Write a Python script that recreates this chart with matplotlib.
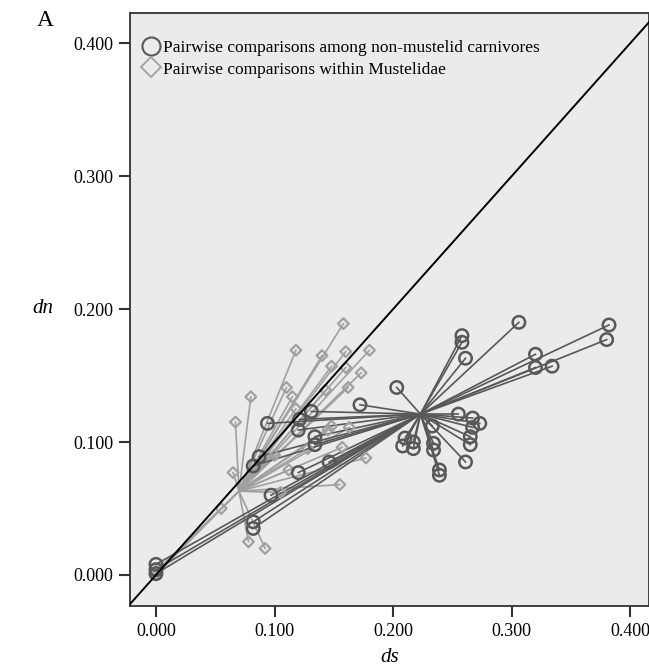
import matplotlib
matplotlib.use("Agg")
import matplotlib.pyplot as plt
from matplotlib.lines import Line2D

plt.rcParams["font.family"] = ["Liberation Serif", "DejaVu Serif"]

# non-mustelid carnivores (ds, dn)
other_ds = [0.258, 0.258, 0.261, 0.203, 0.255, 0.267, 0.273, 0.267, 0.233, 0.265,
            0.265, 0.210, 0.208, 0.217, 0.217, 0.234, 0.234, 0.261, 0.239, 0.239,
            0.306, 0.382, 0.380, 0.320, 0.320, 0.334,
            0.094, 0.121, 0.120, 0.131, 0.172, 0.134, 0.134, 0.146, 0.120, 0.087,
            0.082, 0.097, 0.082, 0.082,
            0.000, 0.000, 0.000]
other_dn = [0.180, 0.175, 0.163, 0.141, 0.121, 0.118, 0.114, 0.111, 0.112, 0.104,
            0.098, 0.103, 0.097, 0.100, 0.095, 0.099, 0.094, 0.085, 0.079, 0.075,
            0.190, 0.188, 0.177, 0.166, 0.156, 0.157,
            0.114, 0.117, 0.109, 0.123, 0.128, 0.104, 0.098, 0.085, 0.077, 0.089,
            0.082, 0.060, 0.040, 0.035,
            0.008, 0.004, 0.001]
other_centroid = (0.223, 0.121)

# within Mustelidae (ds, dn)
must_ds = [0.158, 0.118, 0.140, 0.160, 0.180, 0.148, 0.160, 0.173, 0.162, 0.110,
           0.115, 0.080, 0.143, 0.118, 0.067, 0.148, 0.163, 0.145, 0.157, 0.177,
           0.065, 0.112, 0.155, 0.055, 0.078, 0.092, 0.000, 0.000, 0.128, 0.100,
           0.105]
must_dn = [0.189, 0.169, 0.165, 0.168, 0.169, 0.157, 0.156, 0.152, 0.141, 0.141,
           0.134, 0.134, 0.139, 0.125, 0.115, 0.112, 0.111, 0.109, 0.096, 0.088,
           0.077, 0.079, 0.068, 0.050, 0.025, 0.020, 0.000, 0.003, 0.095, 0.090,
           0.062]
must_centroid = (0.070, 0.063)

xticks = [0.0, 0.1, 0.2, 0.3, 0.4]
yticks = [0.0, 0.1, 0.2, 0.3, 0.4]

fig = plt.figure(figsize=(6.49, 6.71), dpi=100)
ax = fig.add_axes([0.2003, 0.0969, 0.7997, 0.8837])
ax.set_facecolor("#ebebeb")

c_dark = "#585858"
c_light = "#a0a0a0"

# spikes to centroid
for x, y in zip(must_ds, must_dn):
    ax.plot([must_centroid[0], x], [must_centroid[1], y], color=c_light, lw=1.2, zorder=2)
for x, y in zip(other_ds, other_dn):
    ax.plot([other_centroid[0], x], [other_centroid[1], y], color=c_dark, lw=1.2, zorder=3)

ax.scatter(must_ds, must_dn, marker="D", s=30, facecolors="none",
           edgecolors=c_light, linewidths=1.6, zorder=4)
ax.scatter(other_ds, other_dn, marker="o", s=80, facecolors="none",
           edgecolors=c_dark, linewidths=1.8, zorder=5)

# y = x reference
ax.plot([-0.03, 0.45], [-0.03, 0.45], color="black", lw=1.4, zorder=6)

ax.set_xlim(-0.0219, 0.4157)
ax.set_ylim(-0.0233, 0.4226)
ax.set_xticks(xticks)
ax.set_yticks(yticks)
ax.set_xticklabels([f"{v:.3f}" for v in xticks], fontsize=13)
ax.set_yticklabels([f"{v:.3f}" for v in yticks], fontsize=13)
ax.tick_params(direction="out", length=8, width=1.5, color="#333333", pad=4)
for s in ax.spines.values():
    s.set_color("#333333")
    s.set_linewidth(1.3)

ax.set_xlabel("ds", fontsize=15, style="italic", labelpad=6)
fig.text(32 / 649, 1 - 309 / 671, "dn", fontsize=15, style="italic", ha="left", va="center")
fig.text(37 / 649, 1 - 20 / 671, "A", fontsize=17, ha="left", va="center")

handles = [
    Line2D([], [], marker="o", ls="none", markersize=13, markerfacecolor="none",
           markeredgecolor=c_dark, markeredgewidth=1.5,
           label="Pairwise comparisons among non-mustelid carnivores"),
    Line2D([], [], marker="D", ls="none", markersize=10, markerfacecolor="none",
           markeredgecolor=c_light, markeredgewidth=1.3,
           label="Pairwise comparisons within Mustelidae"),
]
ax.legend(handles=handles, loc="upper left", bbox_to_anchor=(0.0, 0.975), frameon=False,
          fontsize=12.5, handletextpad=0.2, labelspacing=0.3, borderaxespad=0.3,
          handlelength=1.0)

fig.savefig("out.png", dpi=100)
